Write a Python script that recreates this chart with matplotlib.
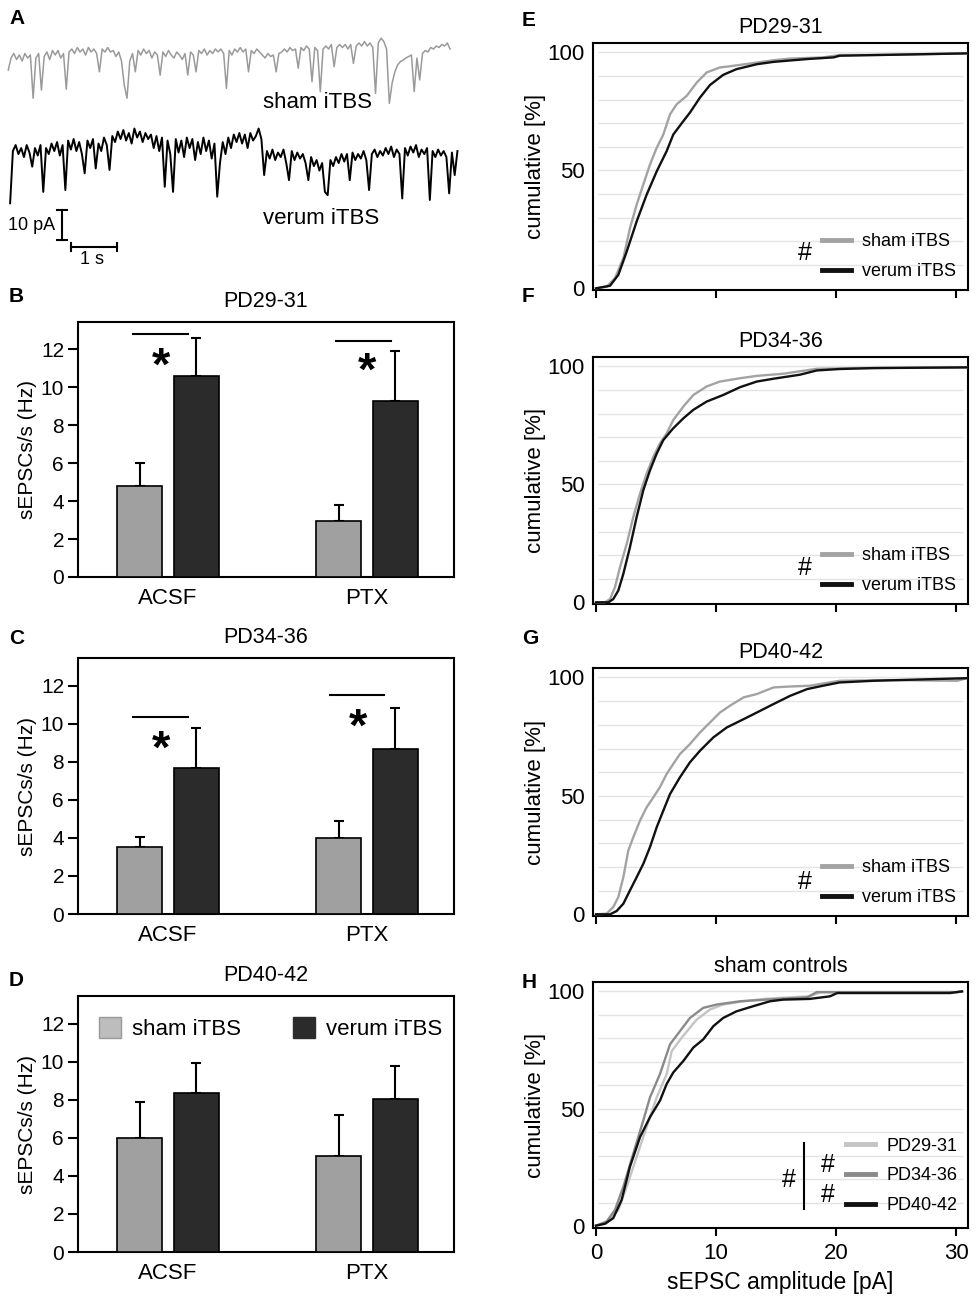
import numpy as np
import matplotlib.pyplot as plt
from matplotlib.patches import Patch

plt.rcParams['font.family'] = ['Liberation Sans', 'DejaVu Sans']
plt.rcParams['axes.linewidth'] = 1.5

# ---- data ----------------------------------------------------------------
# panel A: example traces (pA, relative to baseline), sampled every dt seconds
dt = 0.06
sham_trace = [
    -5, -1, 0.5, -1.5, 0, -2, 0.5, -1, 0, -14.4, -1, 0.5, -11.7, -0.5, 1, -1.5, 1.5, 0, 1.5, -1,
    0.5, -11.4, 1, 2, 0.5, 2.5, 1, 2, 0, 2.5, 1, 2, 0.5, -5.6, 2, 1, 2.5, 1, 1.5, -0.5,
    1, -2, -10, -14.4, -2, 0.5, -5.6, 1.5, 0, 2, 0.5, 1.5, -1, 1, 0, -6.7, 1, -0.5, 1.5, 0,
    -1, 1, 0, -1.5, 0.5, -6.7, 1, 0, -5.6, 1.5, 0.5, 2, 0, 1.5, 0.5, 2, 1, 2, 0.5, -11.1,
    1.5, 0, 2, 1, 2.5, 1, 2, -5.6, 1.5, 0.5, 2, 1, 0, -1, 0.5, -0.5, 0, -5.6, 0.5, 1,
    2, 1, 2.5, 1.5, 2, -4.4, 2.5, 1.5, 3, 2, -8.9, 2.5, 1.5, -12.2, 2, 3, 2, 3.5, -3.9, 2.5,
    3.5, 2.5, 3.5, 2, 3.5, -2.8, 3, 4, 3, 4.5, 3, 4, 2.5, -12.8, 4, 5.6, 4.5, 2, -16.1, -9.4,
    -5.6, -3.3, -2.2, -1.7, -1, -0.5, 0, -12.2, -1, -8.3, 0.5, 1.5, 1, 2.5, 2, 3, 2.5, 3.5, 3, 4,
    2,
]
verum_trace = [
    -19.4, -2, 0, -3, -1, -4, 0, -2.5, -7.2, -1, -3.5, 0, -15.6, -1, -3, 0.5, -2, 1, -3.5, 0,
    -15, 1.5, -1.5, 2, -2, 1, -3, -9.4, 1.5, -1, 2, -7.8, 0.5, -2, 2.5, 0, -8.3, 3, 1, 4.5,
    2, 5, 1.5, 4, 0.5, 5.5, 2.5, 4.5, 1, 4, 2, 3.5, -1, 3, -2, 2.5, -13.9, 1.5, -3, -15.6,
    2, -2.5, 1.5, -4, 2.5, -1, 2, -5, 1, -3, 2.5, -2, 1.5, -4.5, 0.5, -17.2, -6, 1, -3, 2.5,
    -1, 3.5, 1, 4, 0.5, 3.5, -1, 4, 1.5, 3, 5.5, 2, -10, -2, -4.5, -1.5, -5, -2.5, -4, -1.5,
    -6, -11.7, -2, -5, -2.5, -4.5, -3, -6, -11.7, -4, -7, -5, -8.5, -6, -15.6, -16.7, -5, -7, -4, -6,
    -3, -5.5, -3, -11.7, -2.5, -5, -3, -4.5, -2, -5, -15, -3, -1.5, -4, -2, -3.5, -1, -3, -0.5, -4,
    -1.5, -3, -17.8, -1, -3.5, -0.5, -2.5, 0, -4, -1.5, -3, -1, -18.3, -2, -4, -1.5, -3.5, -2, -4, -16.1,
    -2.5, -10, -2,
]
scale_pA = 10
scale_s = 1

# panels B-D: sEPSC frequency (Hz), mean and SEM
conditions = ['ACSF', 'PTX']
b_sham, b_sham_err = [4.8, 2.95], [1.2, 0.85]
b_verum, b_verum_err = [10.6, 9.3], [2.0, 2.6]
c_sham, c_sham_err = [3.5, 4.0], [0.55, 0.87]
c_verum, c_verum_err = [7.65, 8.65], [2.1, 2.15]
d_sham, d_sham_err = [6.0, 5.05], [1.9, 2.15]
d_verum, d_verum_err = [8.35, 8.05], [1.6, 1.7]

# panels E-H: cumulative amplitude distributions (pA, %)
e_sham_x = [0, 0.89, 1.58, 2.28, 2.83, 3.39, 3.94, 4.5, 5.06, 5.61, 6.17, 6.72, 7.56, 8.39, 9.22,
            10.3, 11.4, 13.4, 14.8, 16.2, 18.9, 20.3, 24.5, 30.9]
e_sham_y = [0, 0.7, 4.3, 12.8, 25.5, 35.5, 44, 52.5, 59.6, 65.2, 73.8, 78, 81.6, 87.2, 91.5,
            93.6, 94.3, 95.7, 96.7, 97.4, 97.9, 98.9, 99, 99.6]
e_verum_x = [0, 1.17, 1.86, 2.56, 3.39, 4.22, 5.06, 5.89, 6.44, 7.28, 7.83, 8.67, 9.5, 10.6, 11.7,
             13.4, 14.8, 17.6, 19.8, 20.3, 24.5, 30.9]
e_verum_y = [0, 1.1, 5.7, 15.6, 28.4, 39.7, 49.6, 58.2, 65.2, 70.9, 74.5, 80.9, 86.2, 90.5, 92.9,
             95, 96, 97.2, 97.9, 98.6, 99, 99.6]

f_sham_x = [0, 0.75, 1.17, 1.58, 2.0, 2.56, 3.11, 3.67, 4.22, 4.78, 5.33, 5.89, 6.44, 7.28, 8.11,
            9.22, 10.33, 12.0, 13.4, 15.6, 18.4, 21.7, 30.9]
f_sham_y = [0, 0, 1.4, 6.4, 14.9, 24.8, 36.2, 46.1, 54.6, 61.7, 67.4, 71.6, 77.3, 83.0, 87.9,
            91.5, 93.6, 95.0, 96.0, 96.9, 99.0, 99.3, 99.6]
f_verum_x = [0, 1.03, 1.44, 1.86, 2.28, 2.83, 3.39, 3.94, 4.5, 5.06, 5.61, 6.44, 7.28, 8.11, 9.22,
             10.6, 12.0, 13.4, 14.8, 17.0, 18.4, 20.3, 23.1, 30.9]
f_verum_y = [0, 0, 1.4, 5.0, 12.1, 23.4, 36.2, 47.5, 56.0, 63.1, 68.8, 73.8, 78.0, 81.6, 85.1,
             87.9, 91.2, 93.6, 94.8, 96.5, 98.3, 98.9, 99.3, 99.6]

g_sham_x = [0, 0.89, 1.44, 1.86, 2.28, 2.69, 3.11, 3.67, 4.22, 4.78, 5.33, 5.89, 6.44, 7.0, 7.83,
            8.67, 9.5, 10.33, 11.17, 12.3, 13.4, 14.8, 16.2, 17.8, 20.3, 24.5, 30.1, 30.9]
g_sham_y = [0, 0.3, 3.1, 7.3, 15.7, 26.9, 32.6, 39.6, 45.2, 49.4, 53.7, 59.3, 63.5, 67.7, 71.9,
            76.8, 81.0, 85.2, 88.1, 91.6, 93.0, 95.8, 96.2, 96.5, 98.6, 98.9, 98.6, 99.7]
g_verum_x = [0, 1.17, 1.72, 2.28, 2.83, 3.39, 3.94, 4.5, 5.06, 5.61, 6.17, 7.0, 7.83, 8.67, 9.78,
             10.9, 12.3, 13.4, 14.8, 16.2, 17.6, 18.9, 20.3, 23.1, 27.3, 30.9]
g_verum_y = [0, 0, 1.4, 4.5, 10.1, 15.7, 21.3, 28.4, 36.8, 43.8, 50.8, 57.9, 64.2, 69.1, 74.7,
             78.9, 82.4, 85.2, 88.8, 92.3, 95.1, 96.5, 97.9, 98.6, 99.2, 99.7]

h_pd29_x = [0, 0.89, 1.86, 2.56, 3.39, 4.22, 5.06, 5.89, 6.31, 7.14, 8.39, 9.5, 10.6, 12.3, 14.2,
            17.8, 18.7, 30.1, 30.5]
h_pd29_y = [0.3, 1.7, 7.0, 16.9, 29.6, 42.3, 54.9, 64.8, 74.6, 80.3, 88.0, 92.3, 94.4, 95.8, 96.9,
            97.9, 99.6, 99.7, 100]
h_pd34_x = [0, 0.89, 1.58, 2.28, 3.11, 3.94, 4.5, 5.33, 6.17, 7.0, 7.83, 8.94, 10.06, 12.0, 14.2,
            17.6, 18.4, 30.1, 30.5]
h_pd34_y = [0.3, 2.1, 7.0, 16.9, 31.0, 45.1, 54.9, 64.8, 77.5, 83.1, 88.7, 93.0, 94.4, 95.8, 96.5,
            97.5, 99.7, 99.7, 100]
h_pd40_x = [0, 0.75, 1.44, 2.14, 2.83, 3.67, 4.5, 5.33, 5.89, 6.44, 7.28, 8.11, 8.94, 9.78, 10.6,
            11.7, 13.1, 14.5, 15.6, 17.8, 19.5, 20.1, 29.5, 30.5]
h_pd40_y = [0.3, 1.1, 3.5, 11.3, 25.4, 38.0, 46.5, 53.5, 60.6, 65.5, 70.4, 76.1, 79.6, 85.2, 88.7,
            91.5, 93.7, 95.8, 96.5, 96.8, 97.9, 99.3, 99.3, 100]

# ---- layout helpers ------------------------------------------------------
W, H = 978, 1300
fig = plt.figure(figsize=(W / 100, H / 100), dpi=100)


def box(l, t, r, b):
    return [l / W, 1 - b / H, (r - l) / W, (b - t) / H]


def letter(x, y, s):
    fig.text(x / W, 1 - y / H, s, fontsize=15, fontweight='bold', va='center', ha='left')


SHAM_BAR = '#a0a0a0'
VERUM_BAR = '#2b2b2b'

# ---- A: traces -----------------------------------------------------------
axA = fig.add_axes(box(0, 25, 480, 275))
axA.set_xlim(-0.18, 10.25)
axA.set_ylim(-43.3, 40)
axA.axis('off')
t_sham = np.arange(len(sham_trace)) * dt
t_verum = np.arange(len(verum_trace)) * dt + 0.04
axA.plot(t_sham, np.array(sham_trace) + 30, color='#9a9a9a', lw=1.1)
axA.plot(t_verum, verum_trace, color='black', lw=1.4)
# scale bars
axA.plot([1.167, 1.167], [-21.7, -21.7 - scale_pA], color='black', lw=1.5)
axA.plot([1.06, 1.275], [-21.7, -21.7], color='black', lw=1.5)
axA.plot([1.06, 1.275], [-21.7 - scale_pA, -21.7 - scale_pA], color='black', lw=1.5)
axA.plot([1.363, 1.363 + scale_s], [-34, -34], color='black', lw=1.5)
axA.plot([1.363, 1.363], [-32.7, -35.3], color='black', lw=1.5)
axA.plot([1.363 + scale_s, 1.363 + scale_s], [-32.7, -35.3], color='black', lw=1.5)
fig.text(55 / W, 1 - 225 / H, '%d pA' % scale_pA, fontsize=13, ha='right', va='center')
fig.text(92 / W, 1 - 260 / H, '%d s' % scale_s, fontsize=13, ha='center', va='center')
fig.text(263 / W, 1 - 102 / H, 'sham iTBS', fontsize=16, ha='left', va='center')
fig.text(263 / W, 1 - 218 / H, 'verum iTBS', fontsize=16, ha='left', va='center')
letter(9, 18, 'A')


# ---- B-D: bar charts -----------------------------------------------------
def bar_panel(rect, title, sham, sham_err, verum, verum_err, sig=None, legend=False):
    ax = fig.add_axes(rect)
    pos = np.arange(len(conditions))
    xs = pos - 0.143
    xv = pos + 0.142
    ax.bar(xs, sham, width=0.226, color=SHAM_BAR, edgecolor='black', lw=1.2, zorder=3)
    ax.bar(xv, verum, width=0.226, color=VERUM_BAR, edgecolor='black', lw=1.2, zorder=3)
    ax.errorbar(xs, sham, yerr=[np.zeros(len(sham)), sham_err], fmt='none', ecolor='black',
                elinewidth=1.5, capsize=3.6, capthick=1.5, zorder=2)
    ax.errorbar(xv, verum, yerr=[np.zeros(len(verum)), verum_err], fmt='none', ecolor='black',
                elinewidth=1.5, capsize=3.6, capthick=1.5, zorder=2)
    ax.set_xlim(-0.452, 1.437)
    ax.set_ylim(0, 13.45)
    ax.set_yticks(range(0, 13, 2))
    ax.set_xticks(pos)
    ax.set_xticklabels(conditions, fontsize=16)
    ax.tick_params(axis='x', length=0, pad=8)
    ax.tick_params(axis='y', direction='out', length=7, width=1.5, labelsize=15, pad=3)
    ax.set_ylabel('sEPSCs/s (Hz)', fontsize=15, labelpad=3)
    ax.set_title(title, fontsize=15.5, pad=11)
    if sig:
        for x0, x1, yl, xs_, ys_ in sig:
            ax.plot([x0, x1], [yl, yl], color='black', lw=1.5)
            ax.text(xs_, ys_ - 1.25, '*', fontsize=34, fontweight='bold', ha='center', va='baseline')
    if legend:
        handles = [Patch(facecolor='#bdbdbd', edgecolor='#999999'),
                   Patch(facecolor=VERUM_BAR, edgecolor=VERUM_BAR)]
        ax.legend(handles, ['sham iTBS', 'verum iTBS'], ncol=2, loc='upper left',
                  bbox_to_anchor=(0.056, 0.918), frameon=False, fontsize=16,
                  handlelength=1.0, handleheight=1.1, handletextpad=0.5,
                  columnspacing=2.3, borderpad=0, borderaxespad=0)
    return ax


bar_panel(box(78, 322, 454, 577), 'PD29-31', b_sham, b_sham_err, b_verum, b_verum_err,
          sig=[(-0.176, 0.10, 12.84, -0.035, 11.66), (0.844, 1.12, 12.47, 1.0, 11.4)])
bar_panel(box(78, 658, 454, 914), 'PD34-36', c_sham, c_sham_err, c_verum, c_verum_err,
          sig=[(-0.176, 0.10, 10.36, -0.035, 9.2), (0.814, 1.085, 11.5, 0.955, 10.35)])
bar_panel(box(78, 996, 454, 1252), 'PD40-42', d_sham, d_sham_err, d_verum, d_verum_err,
          legend=True)
letter(9, 297, 'B')
letter(9, 639, 'C')
letter(9, 981, 'D')


# ---- E-H: cumulative distributions --------------------------------------
def cdf_panel(rect, title, curves, bottom=False):
    ax = fig.add_axes(rect)
    ax.hlines(range(10, 101, 10), 0.2, 30.6, color='#e4e4e4', lw=1, zorder=0)
    for xs, ys, col, lab in curves:
        ax.plot(xs, ys, color=col, lw=1.7, label=lab, zorder=3)
    ax.set_xlim(-0.25, 31)
    ax.set_ylim(-0.7, 104)
    ax.set_yticks([0, 50, 100])
    ax.set_xticks([0, 10, 20, 30])
    ax.tick_params(axis='y', length=0, labelsize=16, pad=6)
    ax.tick_params(axis='x', direction='out', length=6, width=1.5, labelsize=16, pad=5,
                   labelbottom=bottom)
    ax.set_ylabel('cumulative [%]', fontsize=16, labelpad=1)
    ax.set_title(title, fontsize=15.5, pad=7)
    if bottom:
        ax.set_xlabel('sEPSC amplitude [pA]', fontsize=16.5, labelpad=5)
    return ax


def cdf_legend(ax, anchor):
    leg = ax.legend(loc='lower right', bbox_to_anchor=anchor, frameon=False, fontsize=13,
                    handlelength=1.6, handletextpad=0.6, labelspacing=0.7,
                    borderpad=0, borderaxespad=0)
    for ln in leg.get_lines():
        ln.set_linewidth(3.5)


for rect, title, sx, sy, vx, vy, hy in [
        (box(593, 43, 968, 290), 'PD29-31', e_sham_x, e_sham_y, e_verum_x, e_verum_y, 15),
        (box(593, 357, 968, 604), 'PD34-36', f_sham_x, f_sham_y, f_verum_x, f_verum_y, 14.5),
        (box(593, 668, 968, 916), 'PD40-42', g_sham_x, g_sham_y, g_verum_x, g_verum_y, 13.5)]:
    ax = cdf_panel(rect, title, [(sx, sy, '#a3a3a3', 'sham iTBS'),
                                 (vx, vy, '#111111', 'verum iTBS')])
    cdf_legend(ax, (0.968, 0.04))
    ax.text(17.4, hy, '#', fontsize=18, ha='center', va='center')

axH = cdf_panel(box(593, 982, 968, 1228), 'sham controls',
                [(h_pd29_x, h_pd29_y, '#c4c4c4', 'PD29-31'),
                 (h_pd34_x, h_pd34_y, '#8a8a8a', 'PD34-36'),
                 (h_pd40_x, h_pd40_y, '#111111', 'PD40-42')], bottom=True)
cdf_legend(axH, (0.971, 0.057))
axH.text(19.3, 26.1, '#', fontsize=18, ha='center', va='center')
axH.text(19.3, 13.4, '#', fontsize=18, ha='center', va='center')
axH.text(16.1, 19.7, '#', fontsize=18, ha='center', va='center')
axH.plot([17.3, 17.3], [7.5, 35.3], color='black', lw=1.5)

letter(522, 20, 'E')
letter(522, 297, 'F')
letter(522, 638, 'G')
letter(522, 982, 'H')

fig.savefig('out.png', dpi=100)
